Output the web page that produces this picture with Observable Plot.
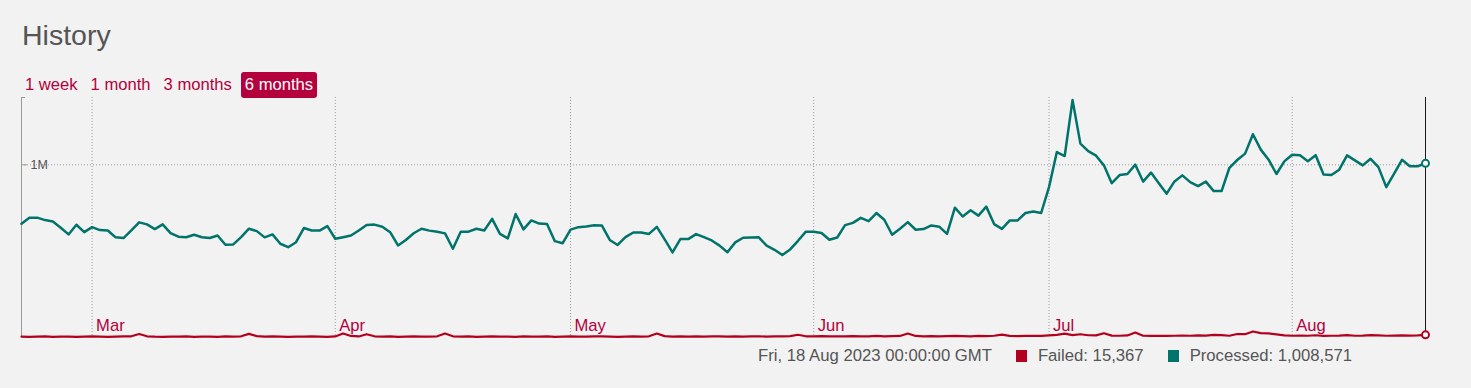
<!DOCTYPE html>
<html>
<head>
<meta charset="utf-8">
<script src="https://cdn.jsdelivr.net/npm/d3@7"></script>
<script src="https://cdn.jsdelivr.net/npm/@observablehq/plot@0.6"></script>
<style>
  html, body { margin: 0; padding: 0; background: #f2f2f2; }
  body { width: 1471px; height: 388px; position: relative; overflow: hidden;
         font-family: "Liberation Sans", Arial, Helvetica, sans-serif; }
  #title { position: absolute; left: 22px; top: 21px; font-size: 28.5px; line-height: 28px; color: #555; }
  #ranges { position: absolute; left: 21px; top: 72px; display: flex; font-size: 16.6px; line-height: 26px; }
  #ranges span { color: #b4003c; padding: 0 4px; margin-right: 5px; border-radius: 3px; }
  #ranges span.active { background: #b4003c; color: #fff; padding: 0 4px; margin-left: 0; }
  #chart { position: absolute; left: 0; top: 88px; }
  #legend { position: absolute; right: 119px; top: 348px; display: flex; align-items: center;
            font-size: 16.7px; line-height: 16px; color: #555; }
  #legend .sw { width: 11.5px; height: 11.5px; display: inline-block; margin-right: 10.5px; }
  #legend .item { display: flex; align-items: center; margin-left: 24px; }
</style>
</head>
<body>
<div id="title">History</div>
<div id="ranges"></div>
<div id="chart"></div>
<div id="legend"></div>
<script>
// ---- data ----
const startDay = Date.UTC(2023, 1, 20); // 20 Feb 2023, one point per day
const rangeLabels = ["1 week", "1 month", "3 months", "6 months"];
const activeRange = "6 months";
const monthTicks = [Date.UTC(2023,2,1), Date.UTC(2023,3,1), Date.UTC(2023,4,1), Date.UTC(2023,5,1), Date.UTC(2023,6,1), Date.UTC(2023,7,1)];
const yTickValues = [1000000];
const yTickLabels = ["1M"];
const yMax = 1390000;

const processed = [
  659000,694000,694000,680000,672000,636000,597000,653000,610000,639000,
  622000,620000,580000,576000,620000,667000,655000,628000,655000,605000,
  584000,581000,595000,581000,576000,591000,537000,539000,581000,630000,
  616000,580000,597000,543000,523000,552000,634000,620000,619000,645000,
  572000,581000,591000,620000,652000,654000,641000,610000,533000,565000,
  604000,630000,619000,612000,603000,514000,613000,613000,630000,620000,
  687000,600000,574000,715000,626000,678000,660000,657000,558000,546000,
  625000,639000,643000,650000,648000,565000,536000,581000,608000,608000,
  600000,641000,568000,493000,570000,570000,599000,581000,562000,532000,
  494000,551000,578000,579000,580000,532000,508000,478000,510000,560000,
  613000,613000,605000,566000,579000,651000,664000,693000,674000,721000,
  682000,595000,630000,668000,624000,628000,649000,642000,600000,752000,
  701000,737000,706000,758000,657000,629000,678000,678000,721000,730000,
  721000,871000,1074000,1051000,1375000,1123000,1079000,1053000,997000,894000,
  941000,947000,1001000,903000,955000,894000,833000,904000,939000,900000,
  877000,903000,848000,848000,983000,1028000,1065000,1177000,1088000,1030000,
  947000,1020000,1058000,1055000,1021000,1056000,944000,941000,972000,1055000,
  1026000,997000,1035000,987000,871000,949000,1029000,992000,992000,1008571
];
const failed = [
  5000,4000,5000,6000,4000,5000,5000,4000,5000,6000,
  5000,4000,5000,6000,7000,20000,7000,5000,4000,5000,
  5000,6000,4000,5000,5000,4000,6000,5000,7000,21000,
  8000,5000,6000,5000,4000,5000,5000,6000,5000,4000,
  6000,23000,9000,6000,19000,7000,5000,6000,4000,5000,
  6000,5000,5000,7000,23000,7000,5000,6000,4000,5000,
  6000,5000,5000,4000,6000,5000,5000,6000,4000,5000,
  6000,5000,5000,7000,6000,5000,4000,5000,6000,5000,
  7000,23000,8000,5000,6000,5000,6000,5000,6000,7000,
  5000,6000,5000,6000,7000,5000,6000,7000,8000,16000,
  7000,6000,8000,7000,6000,7000,8000,7000,6000,9000,
  7000,8000,9000,23000,9000,7000,8000,7000,8000,9000,
  8000,7000,9000,8000,10000,17000,9000,8000,9000,10000,
  9000,12000,15000,22000,14000,19000,13000,12000,25000,11000,
  10000,12000,29000,10000,9000,10000,9000,10000,11000,10000,
  12000,11000,15000,14000,10000,20000,19000,35000,25000,24000,
  18000,12000,10000,11000,10000,13000,9000,10000,11000,14000,
  10000,11000,14000,12000,10000,11000,12000,11000,12000,15367
];

const seriesNames = ["Failed", "Processed"];
const colors = { Failed: "#b3001e", Processed: "#00736a" };
const crimson = "#b4003c";

// ---- build table ----
const dates = processed.map((_, i) => new Date(startDay + i * 86400000));
const rows = dates.map((d, i) => ({ date: d, processed: processed[i], failed: failed[i] }));
const last = rows[rows.length - 1];
const months = monthTicks.map(t => new Date(t));
const fmtMonth = d3.utcFormat("%b");

// ---- header ----
const ranges = document.getElementById("ranges");
rangeLabels.forEach(l => {
  const s = document.createElement("span");
  s.textContent = l;
  if (l === activeRange) s.className = "active";
  ranges.appendChild(s);
});

// ---- chart ----
const W = 1471, H = 260;
const mL = 21, mR = 46, mT = 9, mB = 11;
const innerW = W - mL - mR;

const chart = Plot.plot({
  width: W,
  height: H,
  marginLeft: mL, marginRight: mR, marginTop: mT, marginBottom: mB,
  style: { background: "transparent", fontFamily: "'Liberation Sans', Arial, sans-serif", overflow: "visible" },
  x: { type: "utc", domain: [dates[0], last.date], axis: null },
  y: { domain: [0, yMax], axis: null },
  marks: [
    Plot.ruleX(months, { stroke: "#9a9a9a", strokeDasharray: "1,2", strokeWidth: 1 }),
    Plot.ruleY(yTickValues, { stroke: "#9a9a9a", strokeDasharray: "1,2", strokeWidth: 1 }),
    Plot.ruleX([dates[0]], { stroke: "#9a9a9a", strokeWidth: 1 }),
    Plot.tickY(yTickValues, { stroke: "#9a9a9a", insetRight: innerW - 6 }),
    Plot.tickY([yMax], { stroke: "#9a9a9a", insetRight: innerW - 4 }),
    Plot.text(yTickValues, { y: d => d, frameAnchor: "left", dx: 9, textAnchor: "start",
      text: (d, i) => yTickLabels[i], fill: "#555", fontSize: 12.5 }),
    Plot.text(months, { x: d => d, y: 0, text: d => fmtMonth(d), dx: 4, dy: -7,
      textAnchor: "start", lineAnchor: "bottom", fill: crimson, fontSize: 16.6 }),
    Plot.line(rows, { x: "date", y: "processed", stroke: colors.Processed, strokeWidth: 2.5 }),
    Plot.line(rows, { x: "date", y: "failed", stroke: colors.Failed, strokeWidth: 2.2 }),
    Plot.ruleX([last.date], { stroke: "#1a1a1a", strokeWidth: 1 }),
    Plot.dot([last], { x: "date", y: "processed", r: 3.5, fill: "#fff", stroke: colors.Processed, strokeWidth: 2 }),
    Plot.dot([last], { x: "date", y: "failed", r: 3.5, fill: "#fff", stroke: colors.Failed, strokeWidth: 2 })
  ]
});
document.getElementById("chart").appendChild(chart);

// ---- legend ----
const legend = document.getElementById("legend");
const dt = document.createElement("span");
dt.textContent = last.date.toUTCString();
legend.appendChild(dt);
[["Failed", last.failed], ["Processed", last.processed]].forEach(([name, v]) => {
  const it = document.createElement("span");
  it.className = "item";
  const sw = document.createElement("span");
  sw.className = "sw";
  sw.style.background = colors[name];
  const tx = document.createElement("span");
  tx.textContent = name + ": " + v.toLocaleString("en-US");
  it.appendChild(sw); it.appendChild(tx);
  legend.appendChild(it);
});
</script>
</body>
</html>
